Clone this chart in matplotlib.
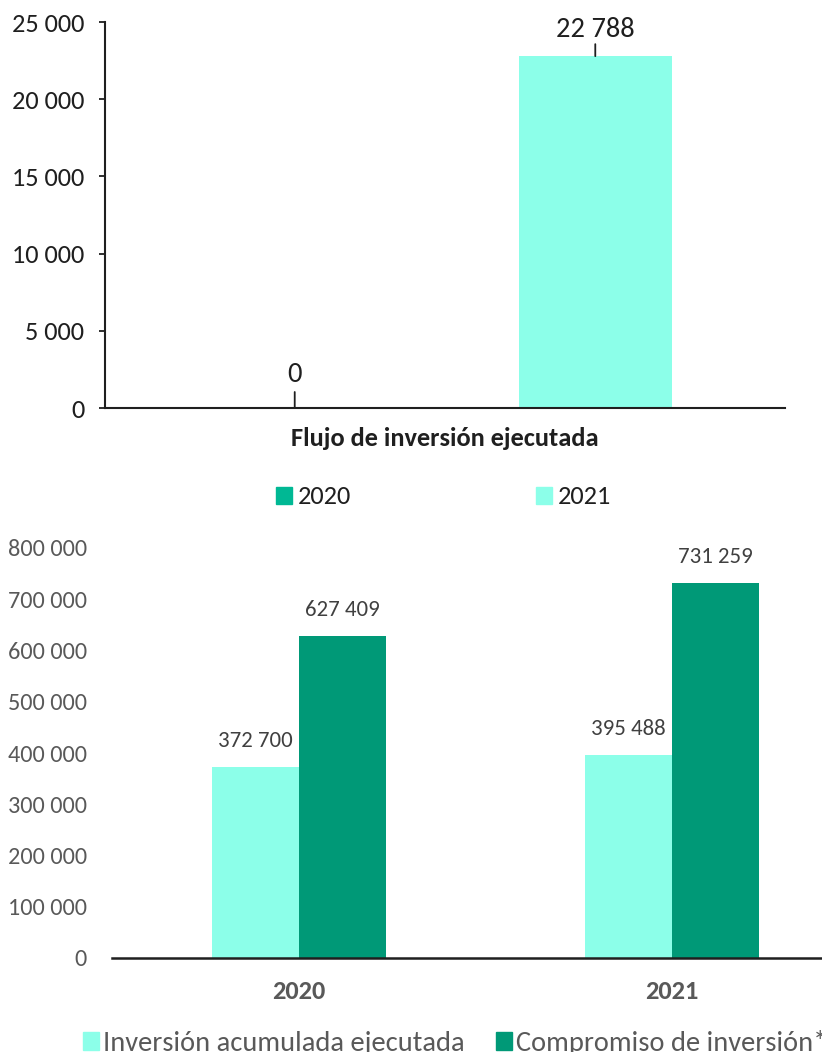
import matplotlib
matplotlib.use("Agg")
import matplotlib.pyplot as plt
from matplotlib.patches import Patch

# ---- data ----
top_category = ["Flujo de inversión ejecutada"]
top_series = ["2020", "2021"]
top_values = [0, 22788]
top_labels = ["0", "22 788"]
top_yticks = [0, 5000, 10000, 15000, 20000, 25000]
top_yticklabels = ["0", "5 000", "10 000", "15 000", "20 000", "25 000"]

bottom_categories = ["2020", "2021"]
bottom_series = ["Inversión acumulada ejecutada", "Compromiso de inversión*"]
bottom_acumulada = [372700, 395488]
bottom_compromiso = [627409, 731259]
bottom_labels_acum = ["372 700", "395 488"]
bottom_labels_comp = ["627 409", "731 259"]
bottom_yticks = [0, 100000, 200000, 300000, 400000, 500000, 600000, 700000, 800000]
bottom_yticklabels = ["0", "100 000", "200 000", "300 000", "400 000",
                      "500 000", "600 000", "700 000", "800 000"]

LIGHT = "#8CFFE9"
DARK = "#009977"
LEG2020 = "#00B894"
FONT = ["Carlito", "DejaVu Sans"]
DARKTXT = "#1f1f1f"
GRAYTXT = "#595959"

W, H = 822, 1052
fig = plt.figure(figsize=(W / 100, H / 100), dpi=100)

def rect(l, t, r, b):
    return [l / W, 1 - b / H, (r - l) / W, (b - t) / H]

# ---------------- top chart ----------------
ax1 = fig.add_axes(rect(105, 22, 785, 408))
offsets = [-0.221, 0.221]
bw = 0.225
top_colors = [LEG2020, LIGHT]
line_len = [16, 12]
text_off = [26, 19]
for i, (v, lab) in enumerate(zip(top_values, top_labels)):
    x = 0 + offsets[i]
    ax1.bar(x, v, width=bw, color=top_colors[i], zorder=2)
    ax1.annotate("", xy=(x, v), xytext=(0, line_len[i]), textcoords="offset pixels",
                 arrowprops=dict(arrowstyle="-", shrinkA=0, shrinkB=0, lw=1.3, color=DARKTXT))
    ax1.annotate(lab, xy=(x, v), xytext=(0, text_off[i]), textcoords="offset pixels",
                 ha="center", va="baseline", fontsize=20.5, family=FONT, color=DARKTXT)
ax1.set_xlim(-0.5, 0.5)
ax1.set_ylim(0, 25000)
ax1.set_yticks(top_yticks)
ax1.set_yticklabels(top_yticklabels, family=FONT, fontsize=19, color=DARKTXT)
ax1.set_xticks([0])
ax1.set_xticklabels(top_category, family=FONT, fontsize=19, fontweight="bold", color=DARKTXT)
ax1.tick_params(axis="x", length=0, pad=14)
ax1.tick_params(axis="y", length=4, width=1.3, color=DARKTXT, pad=11)
for s in ["top", "right"]:
    ax1.spines[s].set_visible(False)
for s in ["left", "bottom"]:
    ax1.spines[s].set_linewidth(1.5)
    ax1.spines[s].set_color(DARKTXT)

leg1 = fig.legend(handles=[Patch(color=LEG2020, label=top_series[0]),
                           Patch(color=LIGHT, label=top_series[1])],
                  loc="center left", bbox_to_anchor=(276 / W, 1 - 497 / H), ncol=2,
                  frameon=False, handlelength=0.6, handleheight=0.6, handletextpad=0.23,
                  columnspacing=7.0, borderpad=0, borderaxespad=0,
                  prop={"family": FONT, "size": 19})
for t in leg1.get_texts():
    t.set_color(DARKTXT)

# ---------------- bottom chart ----------------
ax2 = fig.add_axes(rect(112, 548, 858.5, 958))
bw2 = 0.233
xs = list(range(len(bottom_categories)))
ax2.bar([x - bw2 / 2 for x in xs], bottom_acumulada, width=bw2, color=LIGHT, zorder=2)
ax2.bar([x + bw2 / 2 for x in xs], bottom_compromiso, width=bw2, color=DARK, zorder=2)
for x, v, lab in zip(xs, bottom_acumulada, bottom_labels_acum):
    ax2.annotate(lab, xy=(x - bw2 / 2, v), xytext=(0, 16), textcoords="offset pixels",
                 ha="center", va="bottom", fontsize=16.5, family=FONT, color="#404040")
for x, v, lab in zip(xs, bottom_compromiso, bottom_labels_comp):
    ax2.annotate(lab, xy=(x + bw2 / 2, v), xytext=(0, 16), textcoords="offset pixels",
                 ha="center", va="bottom", fontsize=16.5, family=FONT, color="#404040")
ax2.set_xlim(-0.5, 1.5)
ax2.set_ylim(0, 800000)
ax2.set_yticks(bottom_yticks)
ax2.set_yticklabels(bottom_yticklabels, family=FONT, fontsize=17.5, color=GRAYTXT)
ax2.set_xticks(xs)
ax2.set_xticklabels(bottom_categories, family=FONT, fontsize=19, fontweight="bold", color=GRAYTXT)
ax2.tick_params(axis="x", length=0, pad=16)
ax2.tick_params(axis="y", length=0, pad=18)
for s in ["top", "right", "left"]:
    ax2.spines[s].set_visible(False)
ax2.spines["bottom"].set_linewidth(1.8)
ax2.spines["bottom"].set_color(DARKTXT)

leg2 = fig.legend(handles=[Patch(color=LIGHT, label=bottom_series[0]),
                           Patch(color=DARK, label=bottom_series[1])],
                  loc="center left", bbox_to_anchor=(83 / W, 1 - 1043 / H), ncol=2,
                  frameon=False, handlelength=0.56, handleheight=0.56, handletextpad=0.14,
                  columnspacing=1.12, borderpad=0, borderaxespad=0,
                  prop={"family": FONT, "size": 20.5})
for t in leg2.get_texts():
    t.set_color(GRAYTXT)

fig.savefig("out.png", dpi=100)
